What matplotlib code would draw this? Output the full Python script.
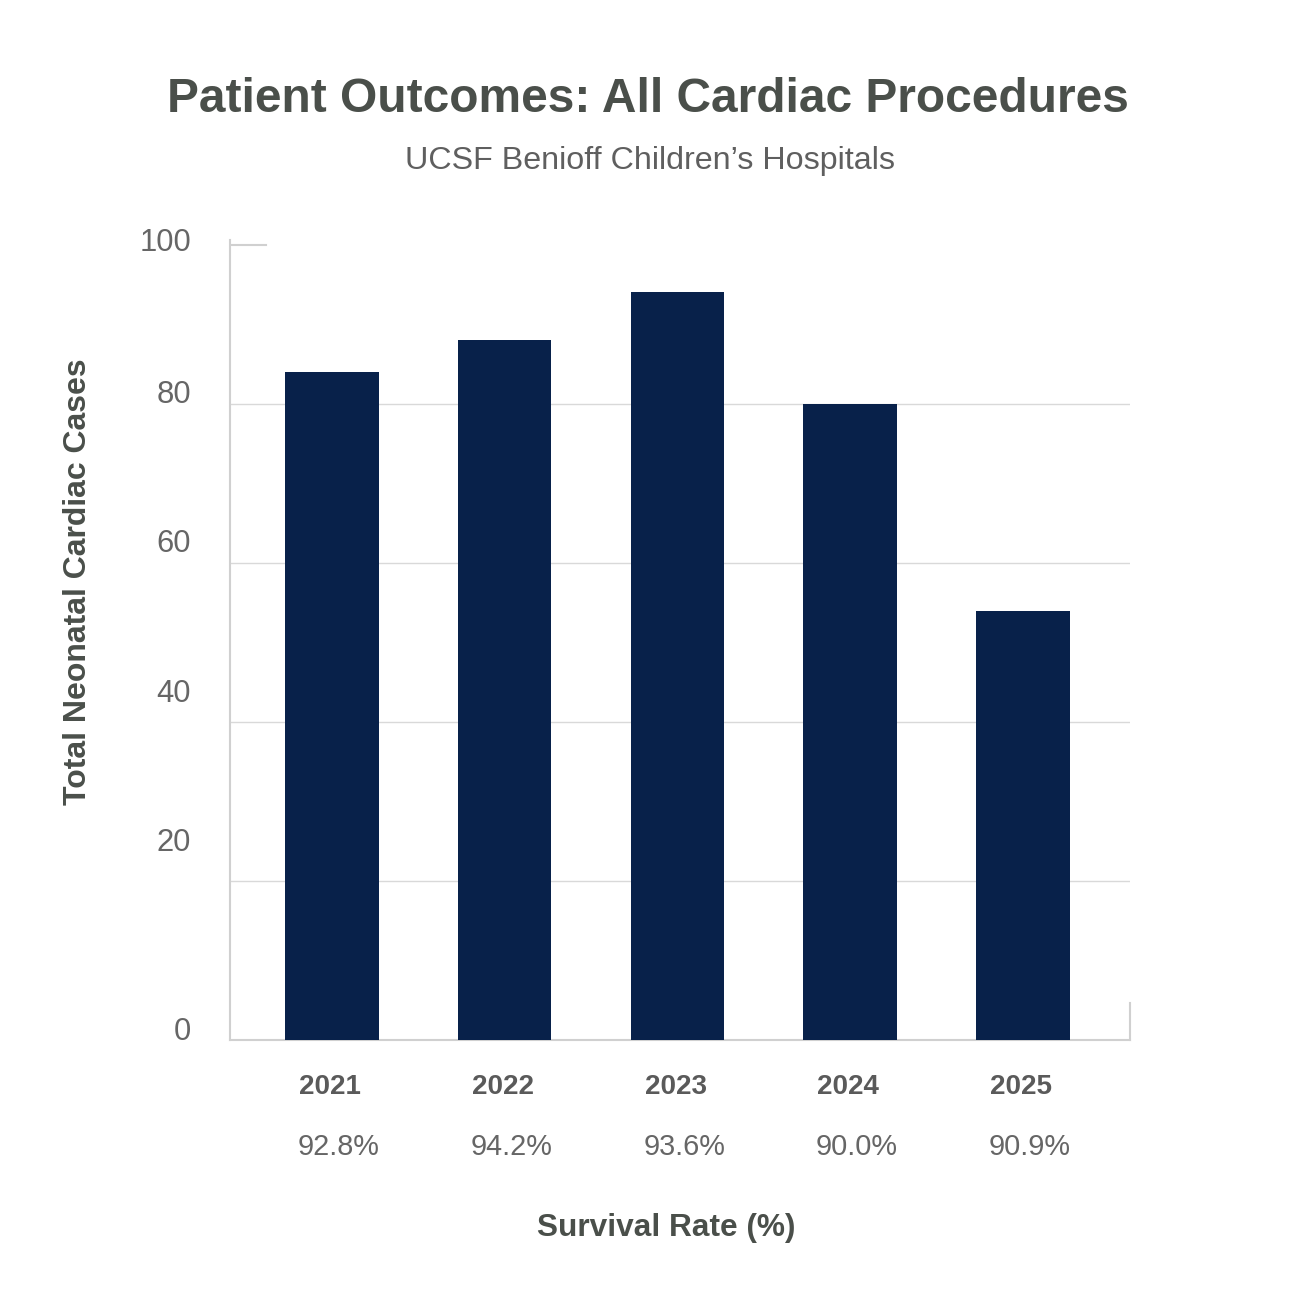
import matplotlib.pyplot as plt
from matplotlib.transforms import blended_transform_factory

years = ['2021', '2022', '2023', '2024', '2025']
cases = [84, 88, 94, 80, 54]
survival = ['92.8%', '94.2%', '93.6%', '90.0%', '90.9%']
ytick_vals = [100, 80, 60, 40, 20, 0]
# labels in the source sit slightly off their gridlines
ytick_pos = [100.6, 81.5, 62.75, 44, 25.25, 1.4]
grid_vals = [20, 40, 60, 80]

plt.rcParams['font.family'] = ['Liberation Sans', 'DejaVu Sans']

fig = plt.figure(figsize=(13, 13), dpi=100)
ax = fig.add_axes([0.1769, 0.2, 0.6923, 0.6154])

x = range(len(years))
ax.bar(x, cases, width=0.54, color='#08214a', zorder=3)

for g in grid_vals:
    ax.axhline(g, color='#d9d9d9', lw=1, zorder=1)
ax.axhline(100, xmax=0.04, color='#d0d0d0', lw=1.5, zorder=1)

ax.set_xlim(-0.59, 4.62)
ax.set_ylim(0, 100)

ax.spines['top'].set_visible(False)
for s in ['left', 'bottom', 'right']:
    ax.spines[s].set_color('#d0d0d0')
    ax.spines[s].set_linewidth(1.5)
ax.spines['right'].set_bounds(0, 4.6)

ax.set_yticks(ytick_pos)
ax.set_yticklabels([str(v) for v in ytick_vals], fontsize=22.3, color='#666666')
ax.tick_params(axis='y', length=0, pad=28)
ax.set_xticks([])

trans = blended_transform_factory(ax.transData, ax.transAxes)
for i, (yr, sv) in enumerate(zip(years, survival)):
    ax.text(i - 0.01, -0.059, yr, transform=trans, ha='center', va='center',
            fontsize=20, fontweight='bold', color='#5a5a5a')
    ax.text(i + 0.04, -0.134, sv, transform=trans, ha='center', va='center',
            fontsize=20.8, color='#666666')

fig.text(666 / 1300, 1 - 1228 / 1300, 'Survival Rate (%)', ha='center', va='center',
         fontsize=22.8, fontweight='bold', color='#4a4f4a')
fig.text(78 / 1300, 1 - 582 / 1300, 'Total Neonatal Cardiac Cases', rotation=90,
         ha='center', va='center', fontsize=23, fontweight='bold', color='#4a4f4a')

fig.text(648 / 1300, 1 - 100 / 1300, 'Patient Outcomes: All Cardiac Procedures',
         ha='center', va='center', fontsize=34.5, fontweight='bold', color='#4a4f4a')
fig.text(650 / 1300, 1 - 161 / 1300, 'UCSF Benioff Children\u2019s Hospitals',
         ha='center', va='center', fontsize=23.2, color='#5f5f5f')

fig.savefig('out.png', dpi=100, facecolor='white')
